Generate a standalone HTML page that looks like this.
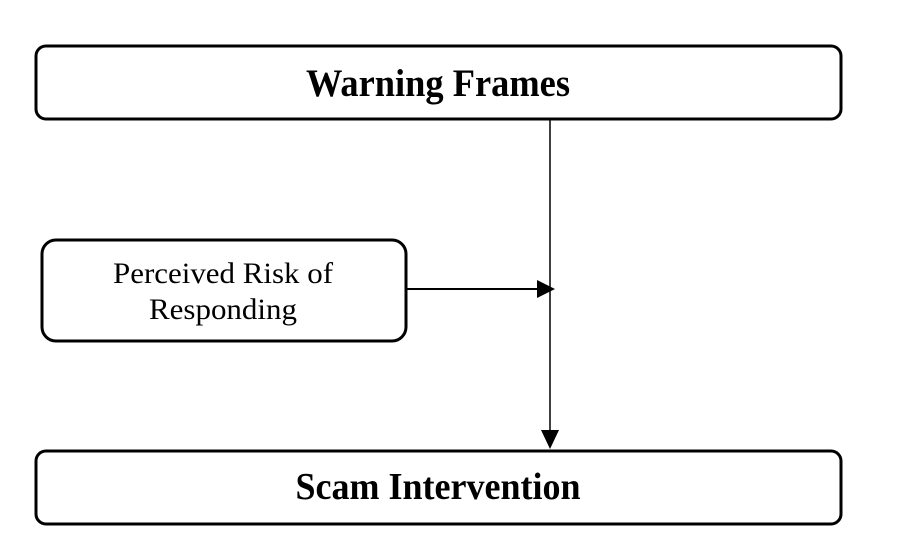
<!DOCTYPE html>
<html><head><style>html,body{margin:0;padding:0;background:#fff}</style></head>
<body>
<svg width="923" height="544" xmlns="http://www.w3.org/2000/svg" style="display:block">
<g fill="none" stroke="#000">
<rect x="36" y="46" width="805" height="73" rx="10" stroke-width="3"/>
<rect x="42" y="240" width="364" height="101" rx="14" stroke-width="3"/>
<rect x="36" y="451" width="805" height="73" rx="10" stroke-width="3"/>
<line x1="550" y1="119" x2="550" y2="432" stroke-width="1.5"/>
<line x1="407" y1="289" x2="540" y2="289" stroke-width="2"/>
</g>
<polygon points="537,280 555,289 537,298" fill="#000"/>
<polygon points="541,430 559,430 550,449" fill="#000"/>
<g font-family="Liberation Serif, serif" fill="#000" text-anchor="middle">
<text x="438" y="96" font-size="39" font-weight="bold" textLength="264" lengthAdjust="spacingAndGlyphs">Warning Frames</text>
<text x="223" y="283" font-size="30" textLength="220" lengthAdjust="spacingAndGlyphs">Perceived Risk of</text>
<text x="223" y="319" font-size="30" textLength="148" lengthAdjust="spacingAndGlyphs">Responding</text>
<text x="438" y="499" font-size="38" font-weight="bold" textLength="285" lengthAdjust="spacingAndGlyphs">Scam Intervention</text>
</g>
</svg>
</body></html>
